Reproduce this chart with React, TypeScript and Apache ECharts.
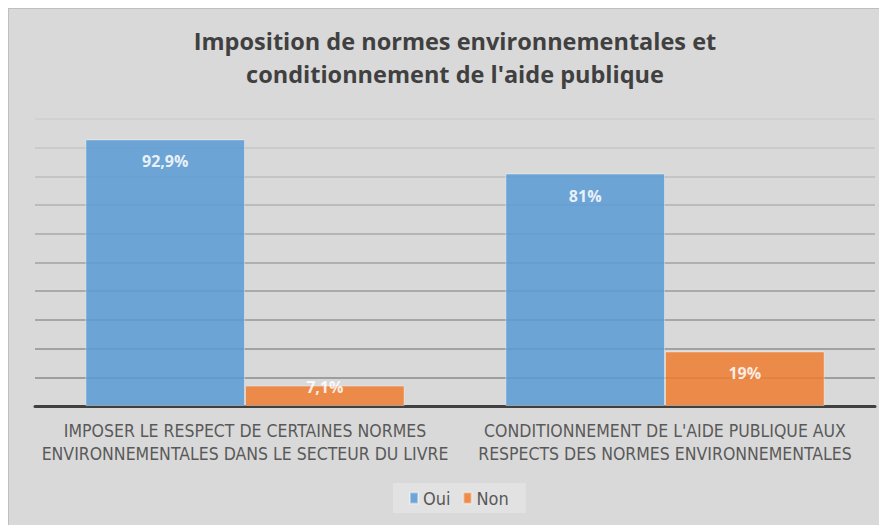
import React, { useEffect, useRef } from "react";
import * as echarts from "echarts";

const titleLines = ["Imposition de normes environnementales et", "conditionnement de l'aide publique"];
const categories = [
  "IMPOSER LE RESPECT DE CERTAINES NORMES\nENVIRONNEMENTALES DANS LE SECTEUR DU LIVRE",
  "CONDITIONNEMENT DE L'AIDE PUBLIQUE AUX\nRESPECTS DES NORMES ENVIRONNEMENTALES",
];
const seriesNames = ["Oui", "Non"];
const ouiValues = [92.9, 81];
const nonValues = [7.1, 19];
const ouiLabels = ["92,9%", "81%"];
const nonLabels = ["7,1%", "19%"];
const gridColors = ["#8a8a8a", "#8a8a8a", "#8f8f8f", "#959595", "#9a9a9a", "#a0a0a0", "#a8a8a8", "#b0b0b0", "#bdbdbd", "#c6c6c6", "#cecece"];

const condensed = "'DejaVu Sans Condensed', 'Liberation Sans Narrow', Roboto, sans-serif";

function buildData(values: number[], labels: string[]) {
  return values.map((v, i) => {
    const small = v < 10;
    return {
      value: v,
      label: small
        ? { position: "top", distance: -9, formatter: labels[i] }
        : { position: "insideTop", distance: 14, formatter: labels[i] },
    };
  });
}

export default function App() {
  const ref = useRef<HTMLDivElement>(null);
  useEffect(() => {
    if (!ref.current) return;
    const chart = echarts.init(ref.current, undefined, { renderer: "svg" });
    const labelStyle = {
      show: true,
      color: "#ffffff",
      fontWeight: "bold",
      fontSize: 16,
      fontFamily: "Open Sans",
    };
    chart.setOption({
      animation: false,
      backgroundColor: "#d9d9d9",
      graphic: [
        {
          type: "text",
          x: 446,
          y: 15,
          style: {
            text: titleLines.join("\n"),
            textAlign: "center",
            fill: "#404040",
            fontFamily: "Open Sans",
            fontWeight: "bold",
            fontSize: 23.5,
            lineHeight: 33,
          },
        },
      ],
      grid: { left: 26, right: 12, top: 110, bottom: 119, containLabel: false },
      legend: {
        data: seriesNames,
        left: 384,
        bottom: 12,
        backgroundColor: "#e2e2e2",
        padding: [6, 17, 6, 16],
        itemWidth: 8,
        itemHeight: 11,
        itemGap: 12,
        icon: "rect",
        textStyle: { color: "#595959", fontSize: 18, fontFamily: condensed },
      },
      xAxis: {
        type: "category",
        data: categories,
        axisLine: { show: true, lineStyle: { color: "#404040", width: 3 } },
        axisTick: { show: false },
        axisLabel: {
          color: "#595959",
          fontSize: 17.5,
          lineHeight: 23,
          margin: 13,
          fontFamily: condensed,
          interval: 0,
        },
      },
      yAxis: {
        type: "value",
        min: 0,
        max: 100,
        interval: 10,
        axisLabel: { show: false },
        axisLine: { show: false },
        axisTick: { show: false },
        splitLine: { show: true, lineStyle: { color: gridColors, width: 1.5 } },
      },
      series: [
        {
          name: seriesNames[0],
          type: "bar",
          data: buildData(ouiValues, ouiLabels),
          barGap: "0%",
          barCategoryGap: "24%",
          itemStyle: { color: "#5b9bd5", opacity: 0.86, borderColor: "rgba(255,255,255,0.45)", borderWidth: 1 },
          label: labelStyle,
        },
        {
          name: seriesNames[1],
          type: "bar",
          data: buildData(nonValues, nonLabels),
          barGap: "0%",
          barCategoryGap: "24%",
          itemStyle: { color: "#ed7d31", opacity: 0.86, borderColor: "rgba(255,255,255,0.45)", borderWidth: 1 },
          label: labelStyle,
        },
      ],
    });
    return () => chart.dispose();
  }, []);
  return (
    <div
      ref={ref}
      style={{ width: 879, height: 517, border: "1px solid #bfbfbf", borderRight: "none", borderBottom: "none", boxSizing: "border-box" }}
    />
  );
}
